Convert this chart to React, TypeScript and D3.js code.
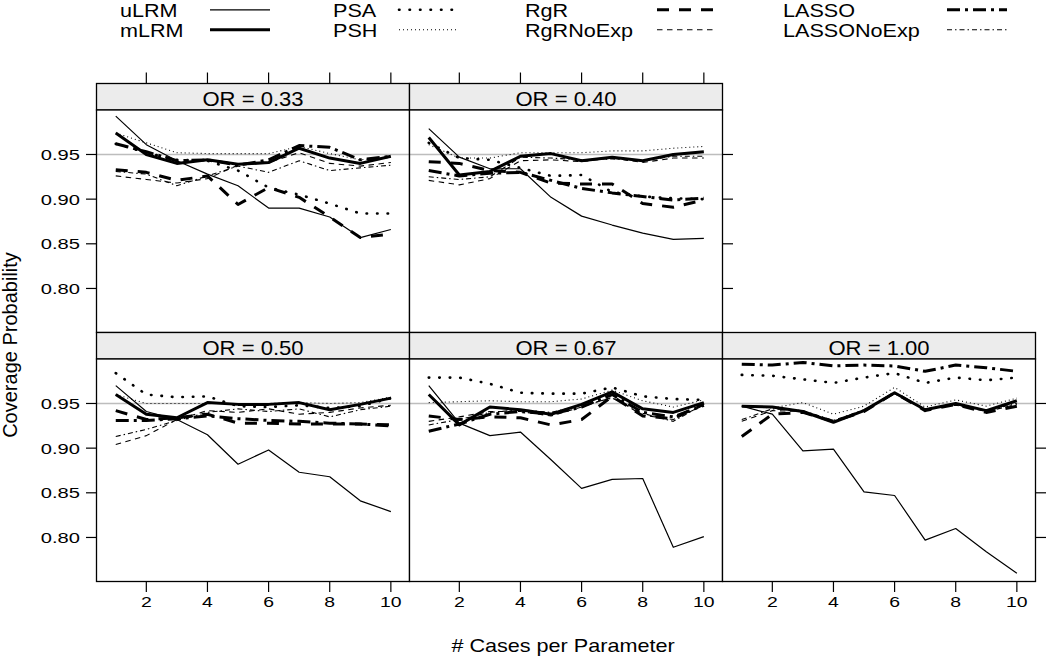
import React from "react";
import * as d3 from "d3";

// ---- data ----
const xs = [1, 2, 3, 4, 5, 6, 7, 8, 9, 10];
const panelLabels = ["OR = 0.33", "OR = 0.40", "OR = 0.50", "OR = 0.67", "OR = 1.00"];
const yTicks = [0.8, 0.85, 0.9, 0.95];
const xTicks = [2, 4, 6, 8, 10];
const refLine = 0.95;

// each row = one panel (0.33, 0.40, 0.50, 0.67, 1.00)
const uLRM = [
  [0.993, 0.961, 0.943, 0.928, 0.915, 0.890, 0.890, 0.880, 0.857, 0.866],
  [0.979, 0.947, 0.934, 0.934, 0.902, 0.881, 0.871, 0.862, 0.855, 0.856],
  [0.970, 0.941, 0.932, 0.915, 0.882, 0.898, 0.873, 0.868, 0.841, 0.829],
  [0.970, 0.928, 0.914, 0.918, 0.887, 0.855, 0.865, 0.866, 0.789, 0.801],
  [0.947, 0.938, 0.897, 0.899, 0.851, 0.847, 0.797, 0.810, 0.784, 0.760],
];
const mLRM = [
  [0.974, 0.950, 0.940, 0.944, 0.939, 0.941, 0.957, 0.946, 0.940, 0.948],
  [0.969, 0.927, 0.931, 0.948, 0.951, 0.943, 0.947, 0.943, 0.950, 0.953],
  [0.960, 0.938, 0.934, 0.951, 0.949, 0.949, 0.951, 0.943, 0.949, 0.956],
  [0.960, 0.926, 0.946, 0.943, 0.938, 0.949, 0.963, 0.944, 0.940, 0.951],
  [0.947, 0.946, 0.941, 0.929, 0.942, 0.962, 0.943, 0.950, 0.942, 0.953],
];
const PSA = [
  [0.962, 0.952, 0.944, 0.943, 0.932, 0.913, 0.905, 0.895, 0.884, 0.884],
  [0.963, 0.946, 0.944, 0.935, 0.926, 0.927, 0.908, 0.903, 0.901, 0.900],
  [0.984, 0.960, 0.957, 0.958, 0.947, 0.946, 0.948, 0.945, 0.947, 0.956],
  [0.979, 0.979, 0.972, 0.962, 0.961, 0.961, 0.968, 0.958, 0.955, 0.954],
  [0.982, 0.981, 0.977, 0.973, 0.979, 0.984, 0.973, 0.979, 0.976, 0.979],
];
const PSH = [
  [0.974, 0.963, 0.952, 0.951, 0.951, 0.951, 0.959, 0.951, 0.944, 0.947],
  [0.961, 0.946, 0.946, 0.952, 0.952, 0.952, 0.954, 0.954, 0.957, 0.959],
  [0.960, 0.950, 0.950, 0.950, 0.950, 0.950, 0.951, 0.950, 0.951, 0.957],
  [0.951, 0.952, 0.953, 0.952, 0.952, 0.955, 0.965, 0.953, 0.946, 0.954],
  [0.947, 0.945, 0.951, 0.938, 0.947, 0.968, 0.946, 0.954, 0.947, 0.956],
];
const RgR = [
  [0.933, 0.930, 0.921, 0.926, 0.894, 0.913, 0.902, 0.880, 0.857, 0.861],
  [0.942, 0.940, 0.932, 0.930, 0.918, 0.917, 0.917, 0.895, 0.891, 0.899],
  [0.942, 0.932, 0.934, 0.938, 0.928, 0.928, 0.927, 0.927, 0.927, 0.926],
  [0.936, 0.932, 0.935, 0.934, 0.926, 0.932, 0.958, 0.936, 0.933, 0.950],
  [0.913, 0.938, 0.940, 0.930, 0.941, 0.962, 0.942, 0.949, 0.940, 0.947],
];
const RgRNoExp = [
  [0.926, 0.922, 0.918, 0.923, 0.938, 0.941, 0.952, 0.940, 0.937, 0.941],
  [0.921, 0.916, 0.923, 0.943, 0.944, 0.942, 0.946, 0.941, 0.946, 0.946],
  [0.904, 0.914, 0.932, 0.942, 0.940, 0.944, 0.938, 0.940, 0.945, 0.948],
  [0.930, 0.935, 0.941, 0.941, 0.936, 0.946, 0.957, 0.937, 0.932, 0.948],
  [0.930, 0.942, 0.941, 0.930, 0.942, 0.961, 0.943, 0.949, 0.941, 0.949],
];
const LASSO = [
  [0.962, 0.953, 0.943, 0.944, 0.938, 0.944, 0.960, 0.958, 0.944, 0.948],
  [0.932, 0.926, 0.929, 0.930, 0.921, 0.912, 0.907, 0.903, 0.899, 0.901],
  [0.931, 0.931, 0.933, 0.936, 0.933, 0.931, 0.930, 0.928, 0.927, 0.925],
  [0.919, 0.927, 0.938, 0.941, 0.938, 0.946, 0.960, 0.940, 0.935, 0.948],
  [0.994, 0.993, 0.996, 0.992, 0.993, 0.992, 0.986, 0.993, 0.990, 0.986],
];
const LASSONoExp = [
  [0.931, 0.928, 0.915, 0.926, 0.937, 0.930, 0.943, 0.932, 0.935, 0.938],
  [0.925, 0.922, 0.925, 0.947, 0.946, 0.944, 0.945, 0.943, 0.948, 0.948],
  [0.913, 0.921, 0.931, 0.940, 0.944, 0.941, 0.944, 0.935, 0.943, 0.947],
  [0.926, 0.932, 0.940, 0.943, 0.940, 0.948, 0.956, 0.939, 0.930, 0.949],
  [0.932, 0.944, 0.942, 0.931, 0.943, 0.961, 0.944, 0.948, 0.942, 0.950],
];

const seriesNames = ["uLRM", "mLRM", "PSA", "PSH", "RgR", "RgRNoExp", "LASSO", "LASSONoExp"];
const seriesData: Record<string, number[][]> = { uLRM, mLRM, PSA, PSH, RgR, RgRNoExp, LASSO, LASSONoExp };

// ---- styles ----
type St = { w: number; dash?: string; cap?: "butt" | "round" };
const styles: Record<string, St> = {
  uLRM: { w: 1.2 },
  mLRM: { w: 3 },
  PSA: { w: 2.6, dash: "0.5 10", cap: "round" },
  PSH: { w: 1.1, dash: "1 3" },
  RgR: { w: 3, dash: "12 10" },
  RgRNoExp: { w: 1.1, dash: "5.5 4.5" },
  LASSO: { w: 3, dash: "13 5 3 5" },
  LASSONoExp: { w: 1.1, dash: "5 3 1.5 3" },
};

const FONT = "'Liberation Sans', Arial, Helvetica, sans-serif";
const colLeft = [96.5, 409.5, 722.5];
const PW = 313;
const stripTop = [83.5, 332.5];
const STRIP_H = 26.5;
const BODY_H = 222.5;
const panelPos = [
  { row: 0, col: 0 },
  { row: 0, col: 1 },
  { row: 1, col: 0 },
  { row: 1, col: 1 },
  { row: 1, col: 2 },
];

function T({ x, y, sx = 1, size, anchor = "start", children, rotate }: any) {
  const tr = rotate
    ? `translate(${x},${y}) rotate(${rotate})`
    : `translate(${x},${y}) scale(${sx},1)`;
  return (
    <text transform={tr} fontSize={size} fontFamily={FONT} textAnchor={anchor} fill="#000">
      {children}
    </text>
  );
}

export default function App() {
  const legendCols = [
    { names: ["uLRM", "mLRM"], tx: 120, lx: 210 },
    { names: ["PSA", "PSH"], tx: 333, lx: 399 },
    { names: ["RgR", "RgRNoExp"], tx: 525, lx: 657 },
    { names: ["LASSO", "LASSONoExp"], tx: 783, lx: 947 },
  ];
  const legendBase = [17.3, 37.3];

  return (
    <svg width={1050} height={660} style={{ position: "absolute", left: 0, top: 0, background: "#fff" }}>
      <defs>
        {panelPos.map((p, i) => (
          <clipPath id={`clip${i}`} key={i}>
            <rect x={colLeft[p.col]} y={stripTop[p.row] + STRIP_H} width={PW} height={BODY_H} />
          </clipPath>
        ))}
      </defs>

      {/* legend */}
      {legendCols.map((c) =>
        c.names.map((n, ri) => {
          const s = styles[n];
          const ly = legendBase[ri] - 7.5;
          return (
            <g key={n}>
              <T x={c.tx} y={legendBase[ri]} sx={1.2} size={18}>
                {n}
              </T>
              <line
                x1={c.lx}
                x2={c.lx + 60}
                y1={ly}
                y2={ly}
                stroke="#000"
                strokeWidth={s.w}
                strokeDasharray={s.dash}
                strokeLinecap={s.cap || "butt"}
              />
            </g>
          );
        })
      )}

      {panelPos.map((p, i) => {
        const left = colLeft[p.col];
        const top = stripTop[p.row];
        const bodyTop = top + STRIP_H;
        const x = d3.scaleLinear().domain([0.37, 10.61]).range([left, left + PW]);
        const y = d3.scaleLinear().domain([0.7507, 0.9998]).range([bodyTop + BODY_H, bodyTop]);
        const line = d3
          .line<number>()
          .x((_, k) => x(xs[k]))
          .y((v) => y(v));
        return (
          <g key={i}>
            <rect x={left} y={top} width={PW} height={STRIP_H} fill="#ececec" stroke="#000" strokeWidth={1.3} />
            <T x={left + PW / 2} y={top + STRIP_H - 4.5} sx={1.05} size={21} anchor="middle">
              {panelLabels[i]}
            </T>
            <rect x={left} y={bodyTop} width={PW} height={BODY_H} fill="#fff" />
            <g clipPath={`url(#clip${i})`}>
              <line x1={left} x2={left + PW} y1={y(refLine)} y2={y(refLine)} stroke="#bdbdbd" strokeWidth={1.3} />
              {seriesNames.map((n) => {
                const s = styles[n];
                return (
                  <path
                    key={n}
                    d={line(seriesData[n][i]) || ""}
                    fill="none"
                    stroke="#000"
                    strokeWidth={s.w}
                    strokeDasharray={s.dash}
                    strokeLinecap={s.cap || "butt"}
                    strokeLinejoin="round"
                  />
                );
              })}
            </g>
            <rect x={left} y={bodyTop} width={PW} height={BODY_H} fill="none" stroke="#000" strokeWidth={1.3} />

            {/* left axis */}
            {p.col === 0 &&
              yTicks.map((t) => (
                <g key={"l" + t}>
                  <line x1={left - 10.5} x2={left} y1={y(t)} y2={y(t)} stroke="#000" strokeWidth={1.2} />
                  <T x={80} y={y(t) + 5.5} sx={1.3} size={15.5} anchor="end">
                    {d3.format(".2f")(t)}
                  </T>
                </g>
              ))}
            {/* right axis */}
            {((p.row === 0 && p.col === 1) || (p.row === 1 && p.col === 2)) &&
              yTicks.map((t) => (
                <line key={"r" + t} x1={left + PW} x2={left + PW + 10.5} y1={y(t)} y2={y(t)} stroke="#000" strokeWidth={1.2} />
              ))}
            {/* top axis */}
            {p.row === 0 &&
              xTicks.map((t) => (
                <line key={"t" + t} x1={x(t)} x2={x(t)} y1={top} y2={top - 11} stroke="#000" strokeWidth={1.2} />
              ))}
            {/* bottom axis */}
            {p.row === 1 &&
              xTicks.map((t) => (
                <g key={"b" + t}>
                  <line x1={x(t)} x2={x(t)} y1={bodyTop + BODY_H} y2={bodyTop + BODY_H + 10.5} stroke="#000" strokeWidth={1.2} />
                  <T x={x(t)} y={607} sx={1.25} size={15.5} anchor="middle">
                    {String(t)}
                  </T>
                </g>
              ))}
          </g>
        );
      })}

      <T x={563} y={652} sx={1.2} size={18} anchor="middle">
        # Cases per Parameter
      </T>
      <T x={17} y={345} size={20} anchor="middle" rotate={-90}>
        Coverage Probability
      </T>
    </svg>
  );
}
